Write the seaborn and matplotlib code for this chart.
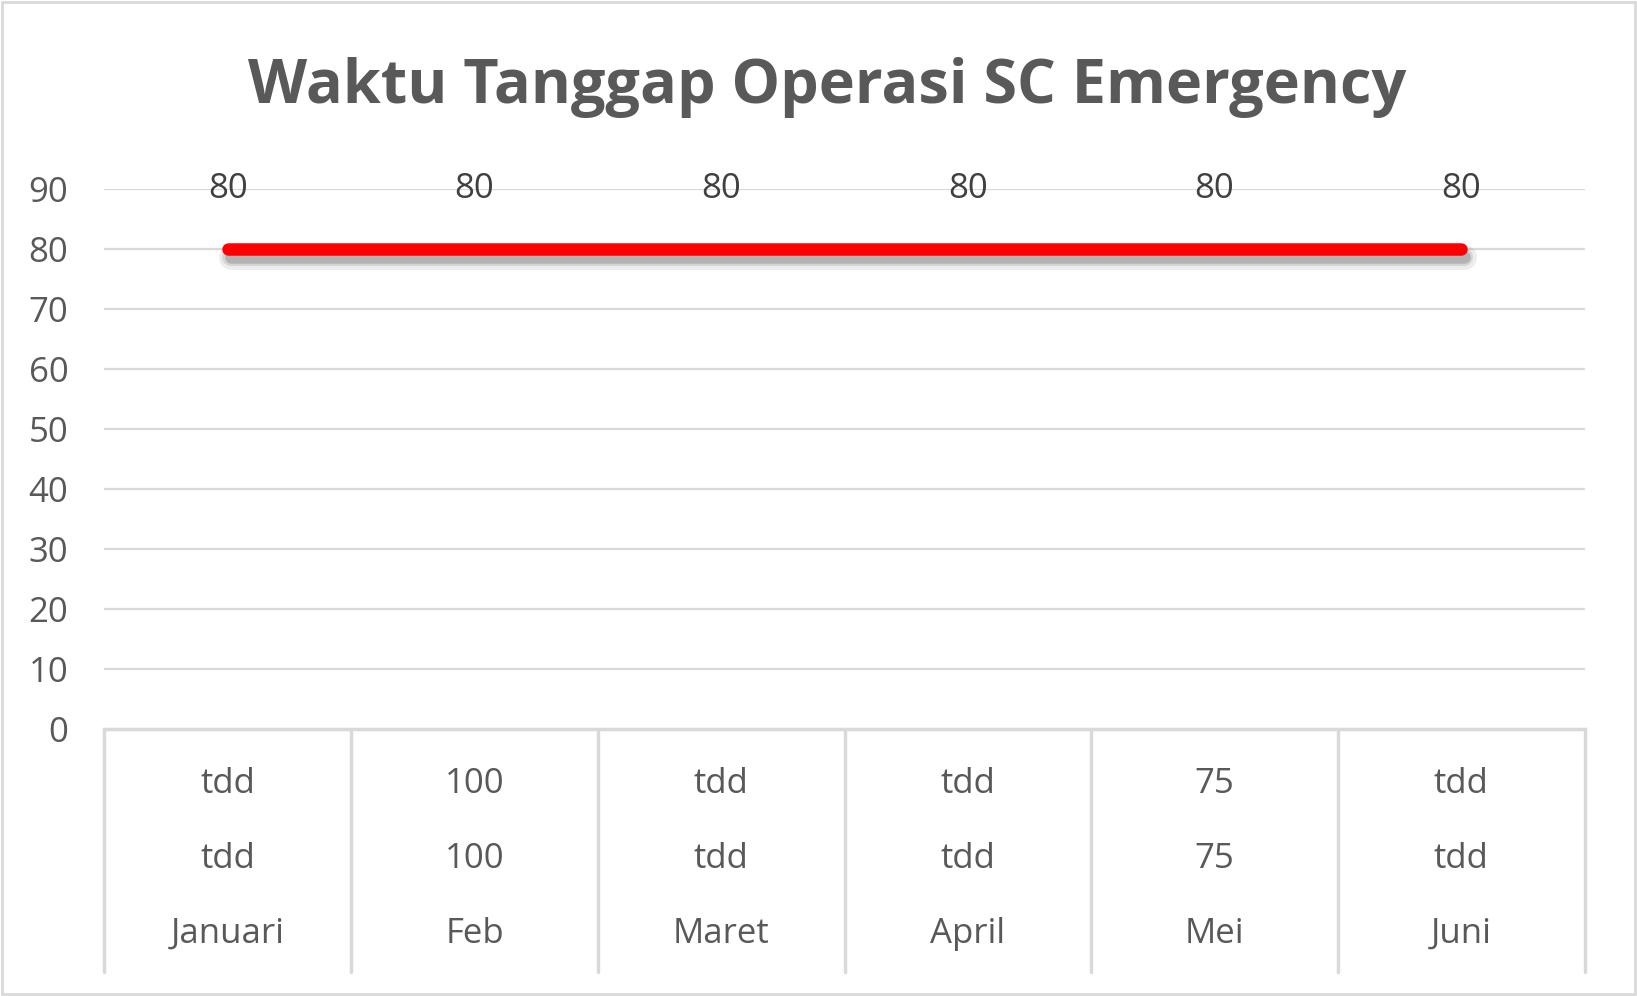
import numpy as np
import matplotlib
matplotlib.use("Agg")
import matplotlib.pyplot as plt
import matplotlib.patheffects as pe
import matplotlib.transforms as mtransforms
import seaborn as sns

# data
months = ["Januari", "Feb", "Maret", "April", "Mei", "Juni"]
values = [80, 80, 80, 80, 80, 80]
row1 = ["tdd", "100", "tdd", "tdd", "75", "tdd"]
row2 = ["tdd", "100", "tdd", "tdd", "75", "tdd"]
yticks = [0, 10, 20, 30, 40, 50, 60, 70, 80, 90]

sns.set_theme(style="white")
plt.rcParams['font.family'] = ['Open Sans', 'DejaVu Sans']

TXT = "#595959"
GRID = "#d9d9d9"

fig = plt.figure(figsize=(16.37, 9.96), dpi=100)
ax = fig.add_axes([0.0638, 0.2676, 0.9042, 0.5427])

# soft shadow built from a few faint, widening copies
shadow = [pe.SimpleLineShadow(offset=(2, -6), shadow_color="#505050", alpha=a, linewidth=w)
          for a, w in [(0.10, 18), (0.15, 13), (0.25, 9)]]

x = np.arange(len(months))
sns.lineplot(x=x, y=values, ax=ax, color="#ff0000", linewidth=9,
             solid_capstyle="round", path_effects=shadow + [pe.Normal()])

# data labels
for xi, v in zip(x, values):
    ax.text(xi, v + 10, str(v), ha="center", va="center", fontsize=25, color="#404040", clip_on=False)

ax.set_xlim(-0.5, len(months) - 0.5)
ax.set_ylim(0, 90)
ax.set_yticks(yticks)
ax.set_yticklabels([str(t) for t in yticks], fontsize=25, color=TXT)
ax.tick_params(axis="y", length=0, pad=26)
ax.set_xticks([])
ax.set_xlabel("")
ax.set_ylabel("")
for yt in yticks[1:]:
    ax.axhline(yt, color=GRID, linewidth=1.6, zorder=0)
for s in ["top", "right", "left"]:
    ax.spines[s].set_visible(False)
ax.spines["bottom"].set_color(GRID)
ax.spines["bottom"].set_linewidth(2.5)

# table below the axis
trans = mtransforms.blended_transform_factory(ax.transData, ax.transAxes)
for b in np.arange(-0.5, len(months), 1.0):
    ax.plot([b, b], [0, -0.449], transform=trans, color=GRID, linewidth=2.5, clip_on=False)
for xi, a, b, m in zip(x, row1, row2, months):
    ax.text(xi, -0.1, a, transform=trans, ha="center", va="center", fontsize=25, color=TXT)
    ax.text(xi, -0.24, b, transform=trans, ha="center", va="center", fontsize=25, color=TXT)
    ax.text(xi, -0.378, m, transform=trans, ha="center", va="center", fontsize=25, color=TXT)

fig.text(0.505, 0.912, "Waktu Tanggap Operasi SC Emergency", ha="center", va="center",
         fontsize=44, fontweight="bold", color=TXT)

# outer frame
fig.patches.append(plt.Rectangle((0.001, 0.002), 0.998, 0.996, transform=fig.transFigure,
                                 fill=False, edgecolor=GRID, linewidth=2))

fig.savefig("out.png", dpi=100)
